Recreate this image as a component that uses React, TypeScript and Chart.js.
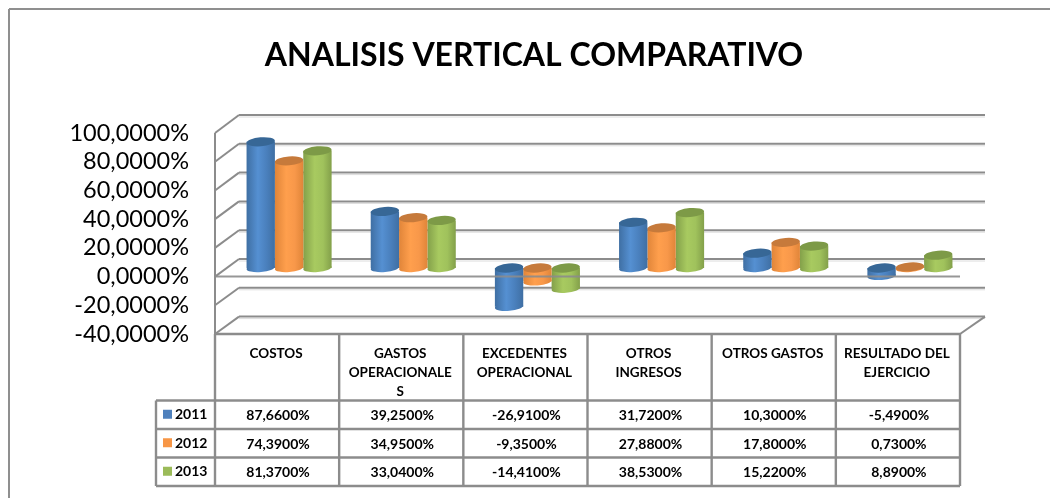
import React, { useEffect, useRef } from "react";
import { Chart, registerables } from "chart.js";

Chart.register(...registerables);

const chartTitle = "ANALISIS VERTICAL COMPARATIVO";
const categories = [
  ["COSTOS"],
  ["GASTOS", "OPERACIONALE", "S"],
  ["EXCEDENTES", "OPERACIONAL"],
  ["OTROS", "INGRESOS"],
  ["OTROS GASTOS"],
  ["RESULTADO DEL", "EJERCICIO"],
];
const series2011 = [87.66, 39.25, -26.91, 31.72, 10.3, -5.49];
const series2012 = [74.39, 34.95, -9.35, 27.88, 17.8, 0.73];
const series2013 = [81.37, 33.04, -14.41, 38.53, 15.22, 8.89];
const seriesNames = ["2011", "2012", "2013"];
const seriesValues = [series2011, series2012, series2013];
const swatchColors = ["#4f81bd", "#f79646", "#9bbb59"];
const capColors = ["#376796", "#c67a3b", "#7d9a47"];
const bodyStops = [
  ["#3f6fa3", "#5590d2", "#4a80bd", "#3f6fa3"],
  ["#e08539", "#ff9f4d", "#f8984a", "#e08539"],
  ["#83a04a", "#a8ca60", "#a0c25c", "#83a04a"],
];

const FONT = "Lato, Carlito, 'Open Sans', sans-serif";
const GRID = "#8c8c8c";
const SHADOW = "#dcdcdc";
const DEPTH_LEFT = 12;
const DEPTH_RIGHT = 13;
const FRONT_INSET = 12;

const fmt = (v: number) => v.toFixed(4).replace(".", ",") + "%";

function bodyGradient(ctx: CanvasRenderingContext2D, x: number, w: number, ds: number) {
  const g = ctx.createLinearGradient(x - w / 2, 0, x + w / 2, 0);
  const s = bodyStops[ds];
  g.addColorStop(0, s[0]);
  g.addColorStop(0.4, s[1]);
  g.addColorStop(0.7, s[2]);
  g.addColorStop(1, s[3]);
  return g;
}

function line(ctx: CanvasRenderingContext2D, x1: number, y1: number, x2: number, y2: number) {
  ctx.beginPath();
  ctx.moveTo(x1, y1);
  ctx.lineTo(x2, y2);
  ctx.stroke();
}

const wallsPlugin = {
  id: "walls",
  beforeDatasetsDraw(chart: any) {
    const { ctx, chartArea: a, scales } = chart;
    const front = scales.yFront;
    const back = scales.yBack;
    const fl = a.left - FRONT_INSET;
    const bl = a.left + DEPTH_LEFT;
    const br = a.right + DEPTH_RIGHT;
    const fr = a.right - FRONT_INSET;
    ctx.save();
    // outer chart frame
    ctx.strokeStyle = "#8f8f8f";
    ctx.lineWidth = 2;
    line(ctx, 9, 9, 1050, 9);
    line(ctx, 9, 9, 9, 498);
    // back wall gridlines and side wall diagonals
    front.ticks.forEach((t: any) => {
      const fy = front.getPixelForValue(t.value);
      const by = back.getPixelForValue(t.value);
      ctx.strokeStyle = SHADOW;
      ctx.lineWidth = 1;
      line(ctx, bl, by + 2, br, by + 2);
      ctx.strokeStyle = GRID;
      ctx.lineWidth = 2;
      line(ctx, bl, by, br, by);
      line(ctx, fl, fy, bl, by);
    });
    // left front edge and right floor corner
    line(ctx, fl, front.getPixelForValue(100), fl, front.getPixelForValue(-40));
    line(ctx, fr, front.getPixelForValue(-40), br, back.getPixelForValue(-40));
    ctx.restore();
  },
  afterDatasetDraw(chart: any, args: any) {
    const { ctx } = chart;
    const ds = args.index;
    ctx.save();
    args.meta.data.forEach((bar: any) => {
      const { x, y, base, width } = bar.getProps(["x", "y", "base", "width"], true);
      const top = Math.min(y, base);
      const bottom = Math.max(y, base);
      const rx = width / 2;
      ctx.fillStyle = bodyGradient(ctx, x, width, ds);
      ctx.beginPath();
      ctx.ellipse(x, bottom, rx, 4, -0.08, 0, Math.PI * 2);
      ctx.fill();
      ctx.fillStyle = capColors[ds];
      ctx.beginPath();
      ctx.ellipse(x, top, rx, 4.5, -0.08, 0, Math.PI * 2);
      ctx.fill();
    });
    ctx.restore();
  },
  afterDatasetsDraw(chart: any) {
    const { ctx, chartArea: a, scales, data } = chart;
    const front = scales.yFront;
    const x = scales.x;
    const fl = a.left - FRONT_INSET;
    const fr = a.right - FRONT_INSET;
    const zero = front.getPixelForValue(0);
    ctx.save();
    // floor line at zero passes in front of the bars
    ctx.strokeStyle = "rgba(140,140,140,0.9)";
    ctx.lineWidth = 2;
    line(ctx, fl, zero, fr, zero);

    // data table
    const rows = [400.5, 429, 457.5, 486];
    const keyLeft = 156;
    const tableTop = front.getPixelForValue(-40);
    ctx.strokeStyle = GRID;
    ctx.lineWidth = 2.4;
    line(ctx, fl, tableTop, fr, tableTop);
    rows.forEach((r) => line(ctx, keyLeft, r, fr, r));
    line(ctx, keyLeft, rows[0], keyLeft, rows[3]);
    const step = (a.right - a.left) / categories.length;
    for (let i = 0; i <= categories.length; i++) {
      const cx = fl + i * step;
      line(ctx, cx, tableTop, cx, rows[3]);
    }
    ctx.textBaseline = "middle";
    ctx.font = `bold 14px ${FONT}`;
    ctx.fillStyle = "#000";
    data.datasets.forEach((d: any, s: number) => {
      const rowMid = (rows[s] + rows[s + 1]) / 2;
      ctx.fillStyle = swatchColors[s];
      ctx.fillRect(163, rowMid - 5, 9, 9);
      ctx.fillStyle = "#000";
      ctx.textAlign = "left";
      ctx.fillText(d.label, 175, rowMid);
      ctx.textAlign = "center";
      d.data.forEach((v: number, i: number) => {
        ctx.fillText(fmt(v), x.getPixelForValue(i) - FRONT_INSET + 1, rowMid + 1);
      });
    });
    ctx.restore();
  },
};

export default function App() {
  const ref = useRef<HTMLCanvasElement>(null);
  useEffect(() => {
    const chart = new Chart(ref.current as HTMLCanvasElement, {
      type: "bar",
      data: {
        labels: categories,
        datasets: seriesNames.map((name, s) => ({
          label: name,
          data: seriesValues[s],
          yAxisID: "y",
          barPercentage: 1,
          categoryPercentage: 0.685,
          borderWidth: 0,
          backgroundColor: (c: any) => {
            const ch = c.chart;
            if (c.dataIndex === undefined || !ch.chartArea) return swatchColors[s];
            const band = (ch.chartArea.right - ch.chartArea.left) / categories.length;
            const w = (band * 0.685) / 3;
            const cx = ch.scales.x.getPixelForValue(c.dataIndex) + (s - 1) * w;
            return bodyGradient(ch.ctx, cx, w, s);
          },
        })),
      },
      options: {
        responsive: false,
        animation: false,
        events: [],
        layout: { padding: { left: 60, right: 42, top: 0, bottom: 0 } },
        plugins: {
          legend: { display: false },
          tooltip: { enabled: false },
          title: {
            display: true,
            text: chartTitle,
            color: "#000",
            font: { family: FONT, size: 32, weight: "bold", lineHeight: 1.2 },
            padding: { top: 36, bottom: 40.6 },
          },
        },
        scales: {
          x: {
            type: "category",
            offset: true,
            grid: { display: false },
            border: { display: false },
            ticks: {
              color: "#000",
              font: { family: FONT, size: 13.5, weight: "bold", lineHeight: 1.4 },
              autoSkip: false,
              maxRotation: 0,
              minRotation: 0,
              labelOffset: -FRONT_INSET - 1,
              padding: 2,
            },
            afterFit: (s: any) => {
              s.height = 164;
            },
          },
          y: { type: "linear", display: false, min: -45.83, max: 106.25, grid: { display: false } },
          yBack: {
            type: "linear",
            position: "right",
            min: -52.08,
            max: 100,
            grid: { display: false, drawTicks: false },
            border: { display: false },
            ticks: { display: false },
            afterFit: (s: any) => {
              s.width = 36;
            },
          },
          yFront: {
            type: "linear",
            position: "left",
            min: -40,
            max: 112.54,
            grid: { display: false, drawTicks: false },
            border: { display: false },
            ticks: {
              stepSize: 20,
              includeBounds: false,
              autoSkip: false,
              color: "#000",
              padding: 38,
              font: { family: FONT, size: 23.5 },
              callback: (v: any) => fmt(Number(v)),
            },
            afterFit: (s: any) => {
              s.width = 167;
            },
          },
        },
      } as any,
      plugins: [wallsPlugin],
    });
    return () => chart.destroy();
  }, []);
  return (
    <canvas
      ref={ref}
      width={1050}
      height={498}
      style={{ position: "fixed", left: 0, top: 0, display: "block", background: "#fff" }}
    />
  );
}
